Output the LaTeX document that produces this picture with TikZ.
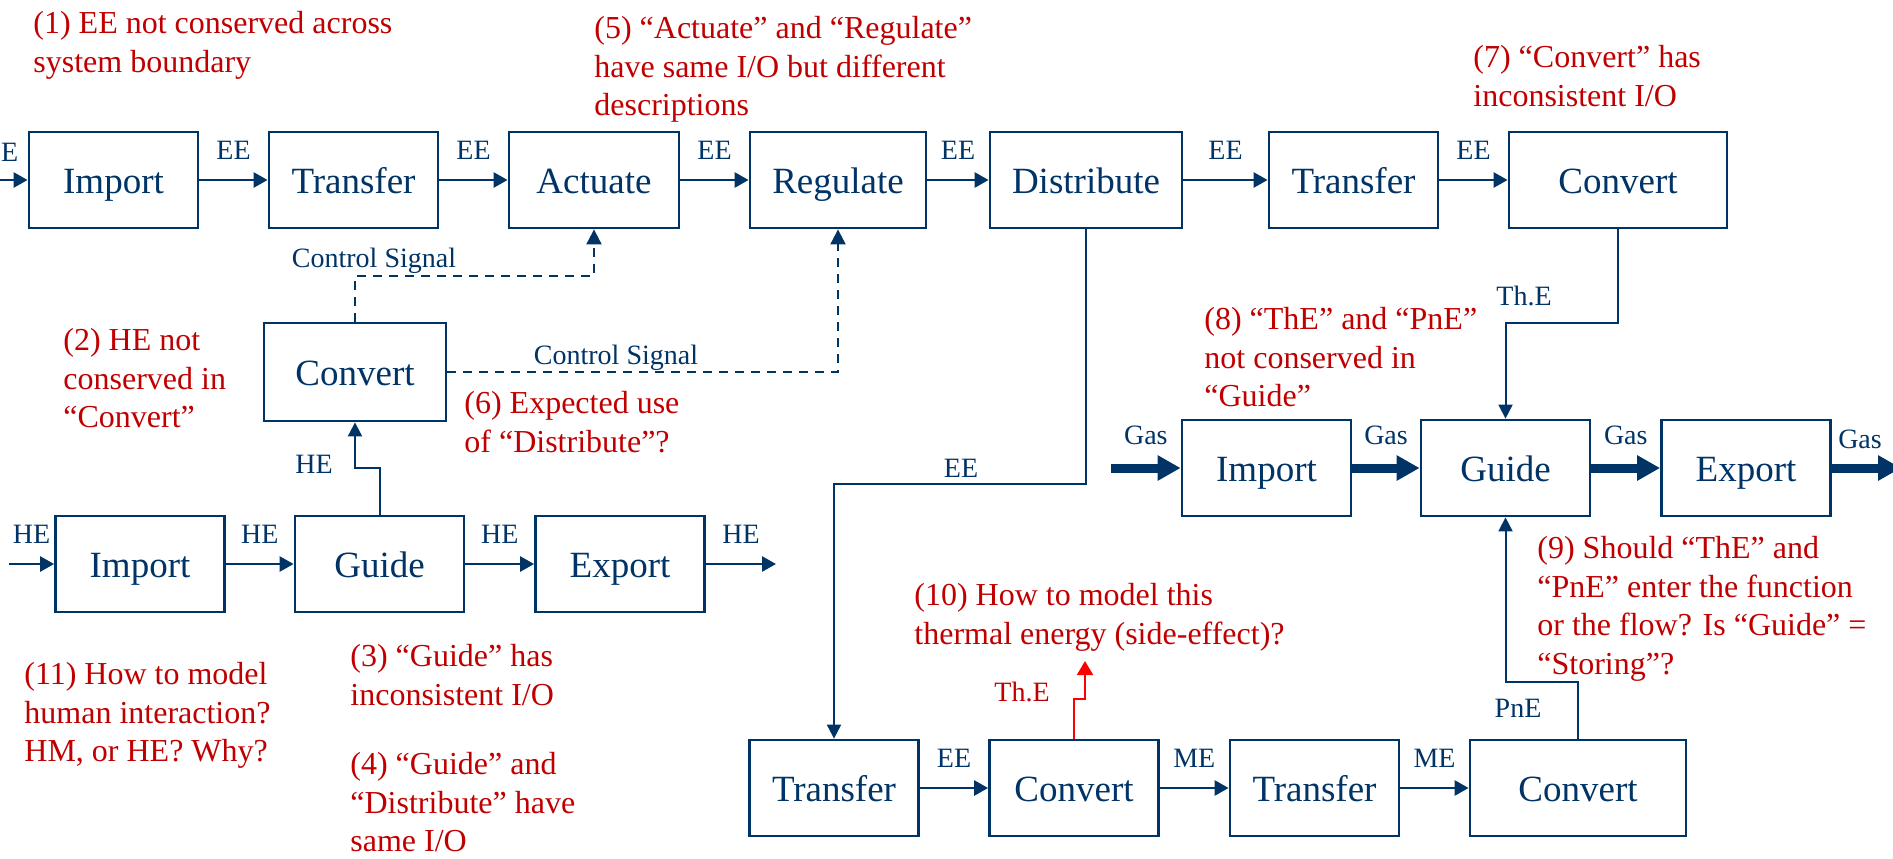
\documentclass[tikz,border=0pt]{standalone}
\usepackage{fontspec}
\setmainfont{Liberation Serif}
\usetikzlibrary{arrows.meta}
\definecolor{navy}{RGB}{0,51,102}
\definecolor{notered}{RGB}{192,0,0}

\begin{document}
\begin{tikzpicture}[
    x=0.5pt, y=-0.5pt,
    func/.style={draw=navy, line width=1.4pt, fill=white, text=navy,
      minimum width=84.5pt, minimum height=48pt, text height=13pt, text depth=0pt,
      font=\fontsize{18.5}{22}\selectfont},
    flow/.style={navy, line width=1.3pt, -{Triangle[length=7pt,width=7.5pt]}},
    thinflow/.style={navy, line width=1pt, -{Triangle[length=7pt,width=7pt]}},
    gas/.style={navy, line width=4.5pt, -{Triangle[length=11.5pt,width=12pt]}},
    ctrl/.style={navy, line width=1pt, dash pattern=on 4.5pt off 3.5pt, -{Triangle[length=7.5pt,width=7.5pt]}},
    heat/.style={red, line width=1pt, -{Triangle[length=7pt,width=8pt]}},
    lbl/.style={text=navy, inner sep=1pt, font=\fontsize{14}{17}\selectfont},
    note/.style={text=notered, anchor=north west, inner sep=0pt, align=left,
      font=\fontsize{16}{19.3}\selectfont}
  ]
  \useasboundingbox (0,0) rectangle (1893,858);
  \clip (0,0) rectangle (1893,858);

  \node[func] (imp1) at (113.5,180) {Import};
  \node[func] (tra1) at (353.5,180) {Transfer};
  \node[func, minimum width=85pt] (act) at (594,180) {Actuate};
  \node[func, minimum width=88pt] (reg) at (838,180) {Regulate};
  \node[func, minimum width=96pt] (dis) at (1086,180) {Distribute};
  \node[func] (tra2) at (1353.5,180) {Transfer};
  \node[func, minimum width=109pt] (con1) at (1618,180) {Convert};

  \node[func, minimum width=91pt, minimum height=49pt] (con2) at (355,372) {Convert};

  \node[func] (imp2) at (140,564) {Import};
  \node[func] (gui1) at (379.5,564) {Guide};
  \node[func] (exp1) at (620,564) {Export};

  \node[func] (imp3) at (1266.5,468) {Import};
  \node[func] (gui2) at (1505.5,468) {Guide};
  \node[func] (exp2) at (1746,468) {Export};

  \node[func] (tra3) at (834,788) {Transfer};
  \node[func] (con3) at (1074,788) {Convert};
  \node[func] (tra4) at (1314.5,788) {Transfer};
  \node[func, minimum width=108pt] (con4) at (1578,788) {Convert};

  \coordinate (ein) at (-10,180);
  \coordinate (hin) at (9,564);
  \coordinate (hout) at (776,564);
  \coordinate (gin) at (1111,468);
  \coordinate (gout) at (1901,468);
  \coordinate (thout) at (1085,661);

  \draw[flow] (ein) -- (imp1);
  \node[lbl, anchor=base] (ee0) at (1,161) {EE};
  \draw[flow] (imp1) -- node[lbl, above=8.5pt] (ee1) {EE} (tra1);
  \draw[flow] (tra1) -- node[lbl, above=8.5pt] (ee2) {EE} (act);
  \draw[flow] (act) -- node[lbl, above=8.5pt] (ee3) {EE} (reg);
  \draw[flow] (reg) -- node[lbl, above=8.5pt] (ee4) {EE} (dis);
  \draw[flow] (dis) -- node[lbl, above=8.5pt] (ee5) {EE} (tra2);
  \draw[flow] (tra2) -- node[lbl, above=8.5pt] (ee6) {EE} (con1);

  \draw[ctrl] (con2.north) |- (act.south |- 0,276) -- (act.south);
  \node[lbl, anchor=base] (cs1) at (374,267) {Control Signal};
  \draw[ctrl] (con2.east) -| (reg.south);
  \node[lbl, anchor=base] (cs2) at (616,364) {Control Signal};

  \draw[flow] (hin) -- node[lbl, above=8.5pt] (he1) {HE} (imp2);
  \draw[flow] (imp2) -- node[lbl, above=8.5pt] (he2) {HE} (gui1);
  \draw[flow] (gui1) -- node[lbl, above=8.5pt] (he3) {HE} (exp1);
  \draw[flow] (exp1) -- node[lbl, above=8.5pt] (he4) {HE} (hout);
  \draw[thinflow] (gui1.north) -- (gui1.north |- 0,468) -| (con2.south);
  \node[lbl, anchor=base] (he0) at (314,473) {HE};

  \draw[thinflow] (dis.south) |- (tra3.north |- 0,484) -- (tra3.north);
  \node[lbl, anchor=base] (ee7) at (961,477) {EE};
  \draw[thinflow] (con1.south) |- (gui2.north |- 0,323) -- (gui2.north);
  \node[lbl, anchor=base] (th1) at (1524,305) {Th.E};

  \draw[gas] (gin) -- node[lbl, above=8.5pt] (gas1) {Gas} (imp3);
  \draw[gas] (imp3) -- node[lbl, above=8.5pt] (gas2) {Gas} (gui2);
  \draw[gas] (gui2) -- node[lbl, above=8.5pt] (gas3) {Gas} (exp2);
  \draw[gas] (exp2) -- (gout);
  \node[lbl, anchor=base] (gas4) at (1860,448) {Gas};

  \draw[flow] (tra3) -- node[lbl, above=8.5pt] (ee8) {EE} (con3);
  \draw[flow] (con3) -- node[lbl, above=8.5pt] (me1) {ME} (tra4);
  \draw[flow] (tra4) -- node[lbl, above=8.5pt] (me2) {ME} (con4);
  \draw[thinflow] (con4.north) |- (gui2.south |- 0,682) -- (gui2.south);
  \node[lbl, anchor=base] (pne) at (1518,717) {PnE};
  \draw[heat] (con3.north) -- (con3.north |- 0,699) -| (thout);
  \node[lbl, anchor=base, text=notered] (th2) at (1022,701) {Th.E};

  \node[note] (n1) at (33,11) {(1) EE not conserved across\\system boundary};
  \node[note] (n2) at (63,328) {(2) HE not\\conserved in\\“Convert”};
  \node[note] (n3) at (350,644) {(3) “Guide” has\\inconsistent I/O};
  \node[note] (n4) at (350,752) {(4) “Guide” and\\“Distribute” have\\same I/O};
  \node[note] (n5) at (594,16) {(5) “Actuate” and “Regulate”\\have same I/O but different\\descriptions};
  \node[note] (n6) at (464,391) {(6) Expected use\\of “Distribute”?};
  \node[note] (n7) at (1473,45) {(7) “Convert” has\\inconsistent I/O};
  \node[note] (n8) at (1204,307) {(8) “ThE” and “PnE”\\not conserved in\\“Guide”};
  \node[note] (n9) at (1537,536) {(9) Should “ThE” and\\“PnE” enter the function\\or the flow? Is “Guide” =\\“Storing”?};
  \node[note] (n10) at (914,583) {(10) How to model this\\thermal energy (side-effect)?};
  \node[note] (n11) at (24,662) {(11) How to model\\human interaction?\\HM, or HE? Why?};
\end{tikzpicture}
\end{document}
